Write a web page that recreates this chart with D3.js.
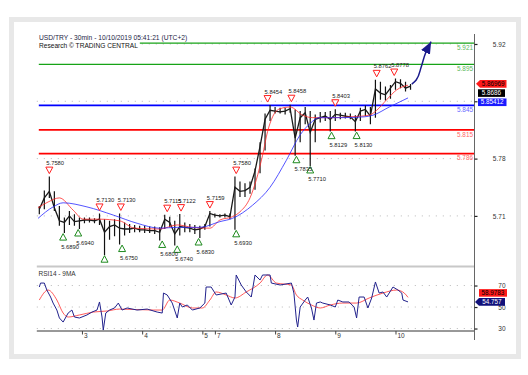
<!DOCTYPE html>
<html>
<head>
<meta charset="utf-8">
<script src="https://cdn.jsdelivr.net/npm/d3@7"></script>
<style>
body { margin: 0; background: #fff; }
svg { display: block; }
text { font-family: "Liberation Sans", Arial, sans-serif; }
</style>
</head>
<body>
<script>
// price, 4 bars of 30min per group
var groupHigh = [5.722,5.741,5.758,5.740,5.722,5.708,5.716,5.712,5.708,5.708,
	5.708,5.707,5.713,5.706,5.704,5.706,5.713,5.702,5.700,5.699,
	5.698,5.698,5.697,5.697,5.696,5.7115,5.709,5.704,5.7122,5.702,
	5.700,5.699,5.698,5.700,5.7159,5.713,5.712,5.713,5.713,5.758,
	5.752,5.750,5.752,5.768,5.800,5.835,5.8454,5.843,5.842,5.842,
	5.8458,5.840,5.838,5.843,5.838,5.834,5.837,5.837,5.838,5.8403,
	5.836,5.836,5.835,5.833,5.842,5.845,5.843,5.8762,5.874,5.868,
	5.870,5.8778,5.877,5.874,5.871];
var groupLow = [5.712,5.718,5.732,5.716,5.698,5.689,5.699,5.698,5.694,5.701,
	5.702,5.701,5.699,5.662,5.681,5.685,5.675,5.686,5.689,5.690,
	5.690,5.689,5.689,5.688,5.680,5.694,5.696,5.674,5.686,5.690,
	5.690,5.688,5.683,5.693,5.697,5.708,5.708,5.708,5.706,5.693,
	5.733,5.733,5.737,5.742,5.762,5.790,5.826,5.835,5.835,5.834,
	5.836,5.7835,5.800,5.822,5.771,5.800,5.824,5.826,5.813,5.826,
	5.828,5.829,5.828,5.813,5.826,5.832,5.822,5.830,5.852,5.851,
	5.853,5.864,5.866,5.862,5.864];
var groupClose = [5.718,5.732,5.740,5.720,5.704,5.702,5.710,5.703,5.704,5.705,
	5.705,5.704,5.706,5.690,5.697,5.699,5.695,5.694,5.694,5.695,
	5.693,5.693,5.692,5.692,5.690,5.706,5.702,5.688,5.697,5.696,
	5.695,5.693,5.694,5.697,5.713,5.711,5.710,5.711,5.709,5.745,
	5.740,5.741,5.745,5.765,5.795,5.828,5.839,5.838,5.837,5.838,
	5.841,5.805,5.830,5.836,5.812,5.828,5.830,5.832,5.828,5.834,
	5.833,5.832,5.831,5.825,5.838,5.840,5.832,5.865,5.860,5.858,
	5.866,5.874,5.872,5.866,5.8686];

// moving averages (bar index, value)
var redMaBar = [1,9,18,29,37,50,66,78,98,112,124,138,146,156,162,170,175,180,184,188,194,202,212,220,236,250,265,271,279,287,296];
var redMaVal = [5.720,5.727,5.732,5.717,5.706,5.706,5.704,5.695,5.694,5.699,5.696,5.695,5.705,5.709,5.715,5.732,5.754,5.784,5.813,5.831,5.841,5.843,5.833,5.830,5.830,5.831,5.833,5.839,5.852,5.864,5.86969];
var blueMaBar = [1,13,21,40,61,80,98,112,130,146,156,172,186,199,210,218,225,241,261,268,281,296];
var blueMaVal = [5.707,5.721,5.726,5.721,5.711,5.701,5.695,5.696,5.696,5.703,5.707,5.723,5.745,5.778,5.809,5.823,5.830,5.830,5.831,5.833,5.843,5.85412];

// levels
var levelVal = [5.921, 5.895, 5.845, 5.815, 5.786];
var levelKind = ["res", "res", "pivot", "sup", "sup"];

// swing markers
var highBar = [10,50,67,104,115,138,159,184,203,238,271,285];
var highVal = [5.7580,5.7130,5.7130,5.7115,5.7122,5.7159,5.7580,5.8454,5.8458,5.8403,5.8762,5.8778];
var lowBar = [21,33,54,68,100,112,129,159,207,218,235,255];
var lowVal = [5.6890,5.6940,5.6620,5.6750,5.6800,5.6740,5.6830,5.6930,5.7835,5.7710,5.8129,5.8130];

// projection arrow
var projBar = [299,302.5,306.5,310,314.4];
var projVal = [5.871,5.876,5.892,5.909,5.9228];

// RSI 14 and its 9MA
var rsiBar = [2,3,6,8,11,13,16,18,21,25,28,30,34,40,44,48,50,52,53,55,58,62,65,68,72,80,88,96,100,101,104,108,112,114,116,120,124,130,134,135,139,143,151,155,158,159,163,167,171,174,178,180,186,187,194,203,205,207,208,210,214,216,219,221,223,226,228,234,238,240,244,249,253,255,257,261,264,267,270,273,276,279,281,284,288,291,292,296];
var rsiVal = [68.6,72.3,72.3,65.8,59.3,53.7,47.2,39.8,36.0,44.4,47.2,40.7,39.8,42.6,45.3,47.2,54.7,40.7,28.6,44.4,47.2,49.1,53.7,47.2,49.1,47.2,48.1,45.3,44.4,63.0,61.2,53.7,39.8,53.7,50.0,51.9,47.2,49.1,53.7,68.6,68.6,61.2,63.0,51.9,59.3,79.8,70.5,64.0,59.3,79.8,75.1,79.8,79.8,72.3,70.5,72.3,63.0,37.9,31.4,50.0,56.5,59.3,49.1,37.9,53.7,54.7,53.7,51.9,50.0,56.5,54.7,54.7,50.0,39.8,59.3,59.3,49.1,58.4,73.3,63.0,64.0,59.3,63.0,68.6,65.8,63.0,56.5,54.757];
var rsiMaBar = [2,9,16,21,25,34,45,56,66,93,100,106,114,124,132,138,143,151,158,167,178,184,191,203,207,212,219,226,234,244,255,265,276,287,293,296];
var rsiMaVal = [56.5,65.8,56.5,44.4,40.7,42.6,45.3,46.3,48.1,47.2,47.2,56.5,53.7,49.1,49.1,56.5,64.0,61.2,58.4,64.0,72.3,79.8,72.3,70.5,61.2,56.5,51.9,49.1,51.9,53.7,53.7,58.4,63.0,65.8,63.0,58.9783];

// axes
var priceTicks = [5.92, 5.85, 5.78, 5.71];
var rsiTicks = [70, 50, 30];
var dayBar = [36, 84, 132, 142, 190, 238, 286];
var dayLabel = ["3", "4", "5", "7", "8", "9", "10"];

var width = 528;
var height = 375;
var left = 36.8, axisX = 474.5;
var priceTop = 34, priceBottom = 266.5;
var rsiTop = 268, rsiBottom = 331;

var svg = d3.select("body").append("svg")
	.attr("width", width)
	.attr("height", height);

// frame
svg.append("rect").attr("x", 9).attr("y", 17).attr("width", 512).attr("height", 342).attr("fill", "#e8e8e8");
svg.append("rect").attr("x", 14).attr("y", 22).attr("width", 502).attr("height", 332).attr("fill", "#fff");

var x = d3.scaleLinear().domain([0, 349]).range([left, axisX]);
var y = d3.scaleLinear().domain([5.6482, 5.9322]).range([priceBottom, priceTop]);
var yR = d3.scaleLinear().domain([27.7, 86.3]).range([rsiBottom, rsiTop]);

var defs = svg.append("defs");
defs.append("clipPath").attr("id", "clipP").append("rect")
	.attr("x", left).attr("y", priceTop).attr("width", axisX - left).attr("height", priceBottom - priceTop - 1);
defs.append("clipPath").attr("id", "clipR").append("rect")
	.attr("x", left).attr("y", rsiTop).attr("width", axisX - left).attr("height", rsiBottom - rsiTop);
defs.append("marker").attr("id", "arrowHead")
	.attr("markerUnits", "userSpaceOnUse")
	.attr("markerWidth", 14).attr("markerHeight", 12)
	.attr("refX", 12).attr("refY", 5)
	.attr("orient", "auto")
	.append("path").attr("d", "M0,0 L12,5 L0,10 Z").attr("fill", "#1a1a8c");

// grid
var gp = svg.append("g");
gp.selectAll("line.gp").data(priceTicks).enter().append("line")
	.attr("x1", left).attr("x2", axisX)
	.attr("y1", function(d) { return y(d); }).attr("y2", function(d) { return y(d); })
	.attr("stroke", "#b8b8b8").attr("stroke-width", 1).attr("stroke-dasharray", "1,6");
gp.selectAll("line.gr").data(rsiTicks).enter().append("line")
	.attr("x1", left).attr("x2", axisX)
	.attr("y1", function(d) { return yR(d); }).attr("y2", function(d) { return yR(d); })
	.attr("stroke", "#b8b8b8").attr("stroke-width", 1).attr("stroke-dasharray", "1,6");

var pricePanel = svg.append("g").attr("clip-path", "url(#clipP)");

// levels
var levelColor = { res: "#17a317", pivot: "#0000ff", sup: "#ff0000" };
var levelText = { res: "#5cb85c", pivot: "#6a6aff", sup: "#ff6666" };
var levelWidth = { res: 1.3, pivot: 1.6, sup: 1.8 };
pricePanel.selectAll("line.level").data(levelVal).enter().append("line")
	.attr("x1", left + 2).attr("x2", axisX)
	.attr("y1", function(d) { return y(d); }).attr("y2", function(d) { return y(d); })
	.attr("stroke", function(d, i) { return levelColor[levelKind[i]]; })
	.attr("stroke-width", function(d, i) { return levelWidth[levelKind[i]]; });
pricePanel.selectAll("text.level").data(levelVal).enter().append("text")
	.attr("x", axisX - 1.5).attr("y", function(d) { return y(d) + 6.8; })
	.attr("text-anchor", "end").attr("font-size", 6.4)
	.attr("fill", function(d, i) { return levelText[levelKind[i]]; })
	.text(function(d) { return d3.format(".3f")(d); });

// price bars
var groups = d3.range(groupHigh.length);
var gx = function(i) { return x(i * 4 + 2); };
pricePanel.selectAll("line.bar").data(groups).enter().append("line")
	.attr("x1", gx).attr("x2", gx)
	.attr("y1", function(i) { return y(groupHigh[i]); })
	.attr("y2", function(i) { return y(groupLow[i]); })
	.attr("stroke", "#111").attr("stroke-width", 1.2);
pricePanel.append("path")
	.datum(groups)
	.attr("d", d3.line().x(gx).y(function(i) { return y(groupClose[i]); }))
	.attr("fill", "none").attr("stroke", "#1a1a1a").attr("stroke-width", 1.3);

// moving averages
var maLine = d3.line().curve(d3.curveMonotoneX);
pricePanel.append("path")
	.attr("d", maLine(redMaBar.map(function(b, i) { return [x(b), y(redMaVal[i])]; })))
	.attr("fill", "none").attr("stroke", "#ff2a2a").attr("stroke-width", 0.8);
pricePanel.append("path")
	.attr("d", maLine(blueMaBar.map(function(b, i) { return [x(b), y(blueMaVal[i])]; })))
	.attr("fill", "none").attr("stroke", "#2a2aff").attr("stroke-width", 0.8);

// swing markers
pricePanel.selectAll("path.hi").data(highBar).enter().append("path")
	.attr("d", function(b, i) {
		var cx = x(b), cy = y(highVal[i]);
		return "M" + (cx - 3.5) + "," + (cy - 9.5) + "L" + (cx + 3.5) + "," + (cy - 9.5) + "L" + cx + "," + (cy - 3) + "Z";
	})
	.attr("fill", "#fff").attr("stroke", "#ff2020").attr("stroke-width", 1);
pricePanel.selectAll("text.hi").data(highBar).enter().append("text")
	.attr("x", function(b) { return x(b) - 3; })
	.attr("y", function(b, i) { return y(highVal[i]) - 11.5; })
	.attr("font-size", 5.8).attr("fill", "#222")
	.text(function(b, i) { return d3.format(".4f")(highVal[i]); });
pricePanel.selectAll("path.lo").data(lowBar).enter().append("path")
	.attr("d", function(b, i) {
		var cx = x(b), cy = y(lowVal[i]);
		return "M" + (cx - 3.5) + "," + (cy + 7) + "L" + (cx + 3.5) + "," + (cy + 7) + "L" + cx + "," + (cy + 0.5) + "Z";
	})
	.attr("fill", "#fff").attr("stroke", "#1e8a1e").attr("stroke-width", 1);
pricePanel.selectAll("text.lo").data(lowBar).enter().append("text")
	.attr("x", function(b) { return x(b) - 2; })
	.attr("y", function(b, i) { return y(lowVal[i]) + 15.5; })
	.attr("font-size", 5.8).attr("fill", "#222")
	.text(function(b, i) { return d3.format(".4f")(lowVal[i]); });

// projection
pricePanel.append("path")
	.attr("d", d3.line().curve(d3.curveMonotoneY)(projBar.map(function(b, i) { return [x(b), y(projVal[i])]; })))
	.attr("fill", "none").attr("stroke", "#1a1a8c").attr("stroke-width", 1.5)
	.attr("marker-end", "url(#arrowHead)");

// title
svg.append("rect").attr("x", left).attr("y", 33).attr("width", 103).attr("height", 17).attr("fill", "#fff");
svg.append("text").attr("x", 39).attr("y", 39.5).attr("font-size", 6.7).attr("fill", "#1c1c44")
	.text("USD/TRY - 30min - 10/10/2019 05:41:21 (UTC+2)");
svg.append("text").attr("x", 39).attr("y", 48.3).attr("font-size", 6.6).attr("fill", "#111")
	.text("Research \u00a9 TRADING CENTRAL");

// panel separators
svg.append("line").attr("x1", left).attr("x2", axisX).attr("y1", 266.5).attr("y2", 266.5)
	.attr("stroke", "#c8c8c8").attr("stroke-width", 2.2);
svg.append("line").attr("x1", left).attr("x2", axisX).attr("y1", rsiBottom).attr("y2", rsiBottom)
	.attr("stroke", "#333").attr("stroke-width", 1);

// RSI panel
var rsiPanel = svg.append("g").attr("clip-path", "url(#clipR)");
rsiPanel.append("path")
	.attr("d", maLine(rsiMaBar.map(function(b, i) { return [x(b), yR(rsiMaVal[i])]; })))
	.attr("fill", "none").attr("stroke", "#ff3030").attr("stroke-width", 0.8);
rsiPanel.append("path")
	.attr("d", d3.line()(rsiBar.map(function(b, i) { return [x(b), yR(rsiVal[i])]; })))
	.attr("fill", "none").attr("stroke", "#22228c").attr("stroke-width", 1);
svg.append("text").attr("x", 38.5).attr("y", 276).attr("font-size", 6.5).attr("fill", "#333").text("RSI14 - 9MA");

// right axis
svg.append("line").attr("x1", axisX).attr("x2", axisX).attr("y1", priceTop).attr("y2", 340)
	.attr("stroke", "#666").attr("stroke-width", 1);
var yAxis = svg.append("g").attr("transform", "translate(" + axisX + ",0)")
	.call(d3.axisRight(y).tickValues(priceTicks).tickSize(3).tickFormat(d3.format(".2f")));
var rAxis = svg.append("g").attr("transform", "translate(" + axisX + ",0)")
	.call(d3.axisRight(yR).tickValues(rsiTicks).tickSize(3).tickFormat(d3.format("d")));
[yAxis, rAxis].forEach(function(a) {
	a.select(".domain").remove();
	a.selectAll(".tick line").attr("stroke", "#222").attr("stroke-width", 1.2);
	a.selectAll(".tick text").attr("x", 31).attr("text-anchor", "end")
		.attr("font-size", 6.5).attr("font-family", "Liberation Sans, Arial, sans-serif").attr("fill", "#333");
});
// 5.85 sits under the value tags, as in the original
yAxis.selectAll(".tick text").filter(function(d) { return d === 5.85; }).remove();

// day axis
var xAxis = svg.append("g").attr("transform", "translate(0," + rsiBottom + ")")
	.call(d3.axisBottom(x).tickValues(dayBar).tickSize(3.5)
		.tickFormat(function(d, i) { return dayLabel[i]; }));
xAxis.select(".domain").remove();
xAxis.selectAll(".tick line").attr("stroke", "#444");
xAxis.selectAll(".tick text").attr("x", 1.5).attr("y", 1).attr("dy", "0.9em").attr("text-anchor", "start")
	.attr("font-size", 6.5).attr("font-family", "Liberation Sans, Arial, sans-serif").attr("fill", "#333");

// value tags
function tag(cy, x0, x1, pointer, bg, fg, label) {
	var h = 7.6, t = cy - h / 2, b = cy + h / 2;
	var d = pointer
		? "M" + x0 + "," + cy + "L" + (x0 + 4) + "," + t + "L" + x1 + "," + t + "L" + x1 + "," + b + "L" + (x0 + 4) + "," + b + "Z"
		: "M" + x0 + "," + t + "L" + x1 + "," + t + "L" + x1 + "," + b + "L" + x0 + "," + b + "Z";
	svg.append("path").attr("d", d).attr("fill", bg);
	svg.append("text").attr("x", (x0 + x1) / 2 + (pointer ? 2 : 0)).attr("y", cy + 2.2)
		.attr("text-anchor", "middle").attr("font-size", 6.3).attr("fill", fg).text(label);
}
var lastRed = redMaVal[redMaVal.length - 1];
var lastBlue = blueMaVal[blueMaVal.length - 1];
var lastClose = groupClose[groupClose.length - 1];
var tagY = y(lastRed) - 1.3;
tag(tagY, 476, 506.5, true, "#ff1a1a", "#000", d3.format(".5f")(lastRed));
tag(tagY + 9.2, 478, 505, false, "#000", "#fff", d3.format(".4f")(lastClose));
tag(tagY + 18.4, 478, 506.5, false, "#1a1aff", "#fff", d3.format(".5f")(lastBlue));
var lastRsi = rsiVal[rsiVal.length - 1];
var lastRsiMa = rsiMaVal[rsiMaVal.length - 1];
tag(yR(lastRsi) - 9, 479, 507, false, "#ff1a1a", "#000", d3.format(".4f")(lastRsiMa));
tag(yR(lastRsi), 475, 505, true, "#10107a", "#fff", d3.format(".3f")(lastRsi));
</script>
</body>
</html>
